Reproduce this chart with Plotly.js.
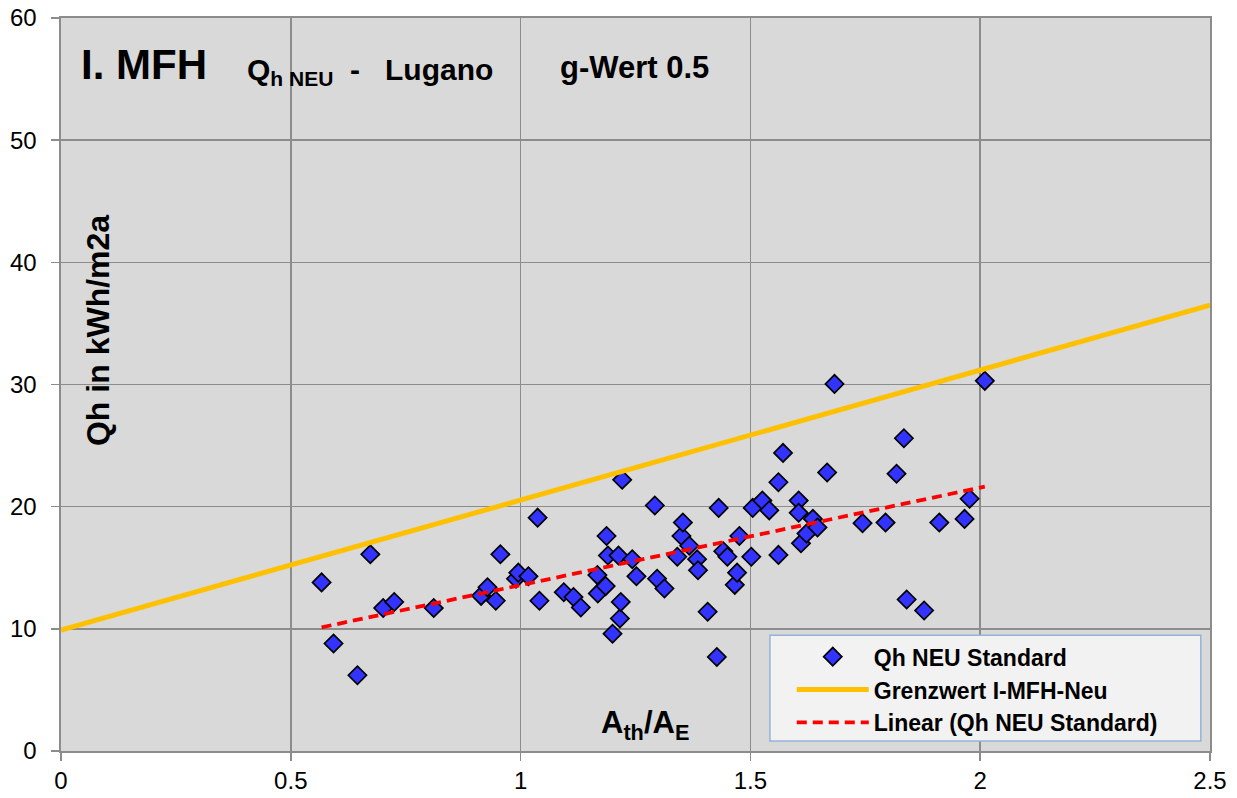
<!DOCTYPE html>
<html>
<head>
<meta charset="utf-8">
<script src="https://cdn.plot.ly/plotly-3.0.1.min.js"></script>
<style>html,body{margin:0;padding:0;background:#fff;}#chart{width:1237px;height:798px;}</style>
</head>
<body>
<div id="chart"></div>
<script>
// Data: A_th/A_E (x) and Qh in kWh/m2a (y)
const ratioX = [0.567,0.593,0.645,0.673,0.701,0.725,0.811,0.914,0.928,0.946,0.956,0.990,0.995,1.017,1.037,1.041,1.094,1.115,1.131,1.167,1.168,1.185,1.187,1.190,1.200,1.213,1.216,1.218,1.221,1.243,1.252,1.292,1.297,1.313,1.341,1.350,1.353,1.367,1.384,1.386,1.407,1.427,1.431,1.441,1.450,1.466,1.471,1.476,1.502,1.505,1.526,1.541,1.561,1.561,1.571,1.605,1.605,1.610,1.622,1.636,1.646,1.667,1.683,1.744,1.794,1.818,1.834,1.840,1.878,1.911,1.966,1.977,2.010];
const qhNeu = [13.8,8.8,6.2,16.1,11.7,12.2,11.7,12.7,13.4,12.3,16.1,14.1,14.6,14.3,19.1,12.3,13.0,12.6,11.75,14.4,12.9,13.5,17.6,16.0,9.6,16.0,10.85,12.2,22.2,15.7,14.3,20.1,14.1,13.3,15.9,17.6,18.7,16.8,15.7,14.8,11.4,7.7,19.9,16.35,15.9,13.6,14.6,17.6,15.9,19.9,20.5,19.7,22.0,16.05,24.4,20.5,19.5,17.0,17.8,19.0,18.3,22.8,30.05,18.65,18.7,22.7,25.6,12.4,11.5,18.7,19.0,20.65,30.3];
// Grenzwert I-MFH-Neu line endpoints
const grenzX = [0, 2.5];
const grenzY = [9.9, 36.5];
const xTicks = [0, 0.5, 1, 1.5, 2, 2.5];
const yTicks = [0, 10, 20, 30, 40, 50, 60];

// least-squares linear trend from the data
const n = ratioX.length;
let sx=0, sy=0, sxx=0, sxy=0;
for (let i=0;i<n;i++){ sx+=ratioX[i]; sy+=qhNeu[i]; sxx+=ratioX[i]*ratioX[i]; sxy+=ratioX[i]*qhNeu[i]; }
const slope = (n*sxy - sx*sy)/(n*sxx - sx*sx);
const icpt = (sy - slope*sx)/n;
const xMin = Math.min(...ratioX), xMax = Math.max(...ratioX);
const trendX = [xMin, xMax];
const trendY = trendX.map(v => icpt + slope*v);

const FONT = "Liberation Sans, Arial, sans-serif";

const traces = [
  {x: ratioX, y: qhNeu, type:'scatter', mode:'markers', name:'Qh NEU Standard',
   marker:{symbol:'diamond', size:14, color:'#3333ff', line:{color:'#000', width:1.7}}},
  {x: grenzX, y: grenzY, type:'scatter', mode:'lines', name:'Grenzwert I-MFH-Neu',
   line:{color:'#ffc000', width:5}},
  {x: trendX, y: trendY, type:'scatter', mode:'lines', name:'Linear (Qh NEU Standard)',
   line:{color:'#ff0000', width:3.8, dash:'10px,6px'}}
];

const layout = {
  width:1237, height:798,
  margin:{l:61, r:27, t:18, b:47, pad:0},
  paper_bgcolor:'#ffffff', plot_bgcolor:'#d9d9d9',
  font:{family:FONT, color:'#000', size:20},
  showlegend:true,
  legend:{x:0.636, y:0.158, xanchor:'left', yanchor:'top', bgcolor:'rgba(0,0,0,0)',
    borderwidth:0, itemwidth:72,
    font:{family:FONT, size:23, color:'#000', weight:'bold'},
    traceorder:'normal'},
  shapes:[
    {type:'rect', xref:'paper', yref:'paper', x0:0.617, x1:0.992, y0:0.0136, y1:0.158,
     fillcolor:'#f2f2f2', line:{color:'#95b3d7', width:1.5}, layer:'above'}
  ],
  xaxis:{range:[0,2.5], tickvals:xTicks, ticktext:xTicks.map(String), showgrid:true,
    gridcolor:'#8c8c8c', gridwidth:1.6, zeroline:false, showline:true, linecolor:'#8c8c8c', linewidth:1.6,
    mirror:true, ticks:'outside', ticklen:8, tickcolor:'#8c8c8c', tickwidth:1.6,
    tickfont:{family:FONT, size:24, color:'#000'}},
  yaxis:{range:[0,60], tickvals:yTicks, ticktext:yTicks.map(String), showgrid:true,
    gridcolor:'#8c8c8c', gridwidth:1.6, zeroline:false, showline:true, linecolor:'#8c8c8c', linewidth:1.6,
    mirror:true, ticks:'outside', ticklen:8, tickcolor:'#8c8c8c', tickwidth:1.6,
    ticklabelstandoff:10,
    tickfont:{family:FONT, size:24, color:'#000'}},
  annotations:[
    {xref:'paper', yref:'paper', x:0.016, y:0.937, xanchor:'left', yanchor:'middle', showarrow:false,
     text:'<b>I. MFH</b>', font:{family:FONT, size:42, color:'#000'}},
    {xref:'paper', yref:'paper', x:0.16, y:0.927, xanchor:'left', yanchor:'middle', showarrow:false,
     text:'<b>Q<sub>h NEU</sub>  -   Lugano</b>', font:{family:FONT, size:30, color:'#000'}},
    {xref:'paper', yref:'paper', x:0.4325, y:0.932, xanchor:'left', yanchor:'middle', showarrow:false,
     text:'<b>g-Wert 0.5</b>', font:{family:FONT, size:31, color:'#000'}},
    {xref:'paper', yref:'paper', x:0.032, y:0.574, xanchor:'center', yanchor:'middle', showarrow:false,
     textangle:-90, text:'<b>Qh in kWh/m2a</b>', font:{family:FONT, size:32, color:'#000'}},
    {xref:'paper', yref:'paper', x:0.508, y:0.036, xanchor:'center', yanchor:'middle', showarrow:false,
     text:'<b>A<sub>th</sub>/A<sub>E</sub></b>', font:{family:FONT, size:31, color:'#000'}}
  ]
};

Plotly.newPlot('chart', traces, layout, {displayModeBar:false, staticPlot:true});
</script>
</body>
</html>
